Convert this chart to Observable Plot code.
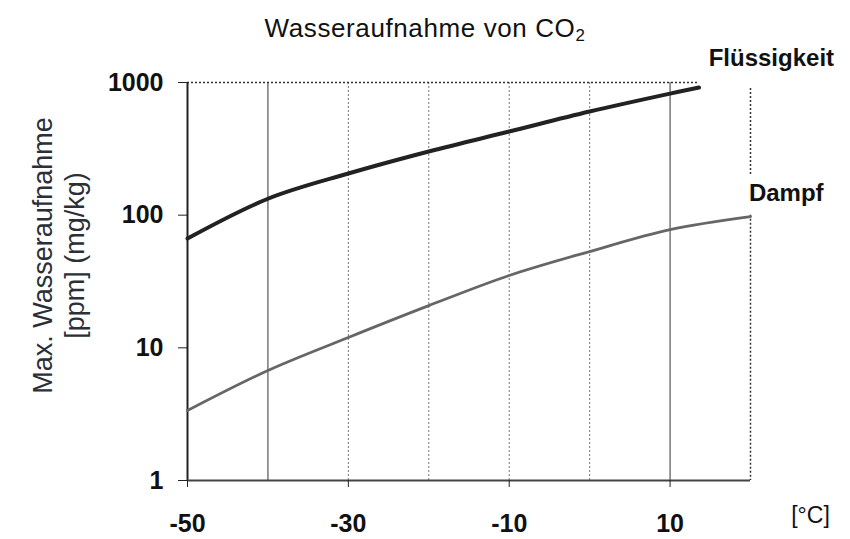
<!DOCTYPE html>
<html>
<head>
<meta charset="utf-8">
<script src="https://cdn.jsdelivr.net/npm/d3@7"></script>
<script src="https://cdn.jsdelivr.net/npm/@observablehq/plot@0.6"></script>
<style>
  html, body { margin: 0; padding: 0; background: #fff; }
  body { width: 850px; height: 539px; overflow: hidden; font-family: "Liberation Sans", Arial, sans-serif; }
  #title { height: 44px; box-sizing: border-box; padding-top: 13px; line-height: 30px; font-size: 26px; letter-spacing: 0.6px; text-align: center; color: #111; }
  #title sub { font-size: 0.65em; vertical-align: -0.25em; line-height: 0; }
  svg { display: block; }
</style>
</head>
<body>
<div id="title">Wasseraufnahme von CO<sub>2</sub></div>
<div id="chart"></div>
<script>
// Temperature [°C]
const liquidTemp = [-50, -40, -30, -20, -10, 0, 10, 13.6];
const liquidPpm  = [66.7, 133, 206, 302, 427, 604, 825, 916];
const vaporTemp  = [-50, -40, -30, -20, -10, 0, 10, 20];
const vaporPpm   = [3.37, 6.75, 11.97, 20.8, 35.1, 53.2, 77.8, 97.5];

const xTicks = [-50, -30, -10, 10];
const yTicks = [1, 10, 100, 1000];
const gridSolid = [-40, 10];
const gridDotted = [-30, -20, -10, 0];

const seriesLabels = [
  {label: "Flüssigkeit", x: 14.8, y: 1514},
  {label: "Dampf", x: 19.8, y: 145}
];

const liquid = liquidTemp.map((t, i) => ({t, v: liquidPpm[i]}));
const vapor = vaporTemp.map((t, i) => ({t, v: vaporPpm[i]}));

const chart = Plot.plot({
  width: 850,
  height: 495,
  marginTop: 38,
  marginBottom: 59,
  marginLeft: 187,
  marginRight: 100,
  style: {fontFamily: "'Liberation Sans', Arial, sans-serif", color: "#111", background: "#fff"},
  x: {domain: [-50, 20]},
  y: {type: "log", domain: [1, 1000]},
  marks: [
    Plot.ruleX(gridDotted, {stroke: "#777", strokeWidth: 1, strokeDasharray: "2,2"}),
    Plot.ruleX(gridSolid, {stroke: "#555", strokeWidth: 1.2}),
    Plot.ruleY([1000], {x1: -50, x2: 13.6, stroke: "#333", strokeWidth: 1.5, strokeDasharray: "2,2"}),
    Plot.ruleX([20], {y1: 900, y2: 200, stroke: "#333", strokeWidth: 1.5, strokeDasharray: "2,2"}),
    Plot.ruleX([20], {y1: 100, y2: 1, stroke: "#333", strokeWidth: 1.5, strokeDasharray: "2,2"}),
    Plot.ruleX([-50], {stroke: "#222", strokeWidth: 2}),
    Plot.ruleY([1], {stroke: "#444", strokeWidth: 2}),
    Plot.axisY({ticks: yTicks, tickSize: 9, tickPadding: 15, tickFormat: d => String(d), label: null, fontSize: 25, fontWeight: "bold", stroke: "#222"}),
    Plot.axisX({ticks: xTicks, tickSize: 7, tickPadding: 27, tickFormat: d => String(d), label: null, fontSize: 25, fontWeight: "bold", stroke: "#222"}),
    Plot.line(vapor, {x: "t", y: "v", stroke: "#666", strokeWidth: 2.8, curve: "catmull-rom"}),
    Plot.line(liquid, {x: "t", y: "v", stroke: "#222", strokeWidth: 4, curve: "catmull-rom"}),
    Plot.text(seriesLabels, {x: "x", y: "y", text: "label", textAnchor: "start", fontSize: 24, fontWeight: "bold", fill: "#111"}),
    Plot.text(["Max. Wasseraufnahme\n[ppm] (mg/kg)"], {frameAnchor: "left", rotate: -90, dx: -130, dy: -26, fontSize: 27, lineHeight: 1.2, fill: "#2a2f38", textAnchor: "middle"}),
    Plot.text(["[°C]"], {frameAnchor: "bottom-right", dx: 60, dy: 42, fontSize: 23, fill: "#111", textAnchor: "middle"})
  ]
});
document.getElementById("chart").appendChild(chart);
</script>
</body>
</html>
